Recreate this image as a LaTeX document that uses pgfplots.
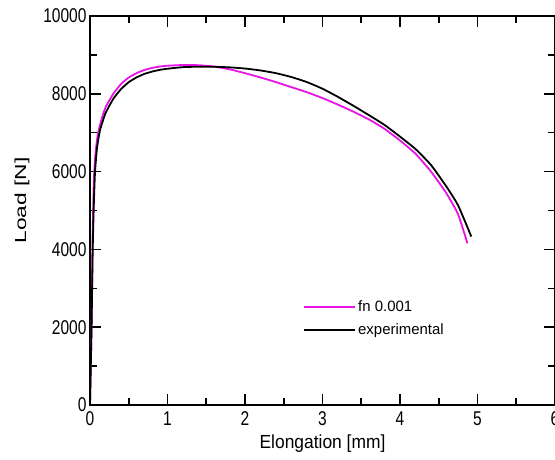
\documentclass[border=0pt]{standalone}
\usepackage{pgfplots}
\pgfplotsset{compat=1.18}
\usepackage{graphicx}
\usepackage{fontspec}
\setmainfont{Liberation Sans}
\newfontfamily\tickfont[FakeStretch=0.78]{Liberation Sans}
\newfontfamily\xlabfont[FakeStretch=0.92]{Liberation Sans}

\definecolor{fnmag}{RGB}{230,20,230}

\begin{document}
\begin{tikzpicture}
\begin{axis}[
    name=ax,
    scale only axis,
    width=465bp, height=389bp,
    xmin=0, xmax=6,
    ymin=0, ymax=10000,
    xtick={0,1,...,6},
    ytick={0,2000,...,10000},
    minor x tick num=1,
    minor y tick num=1,
    scaled y ticks=false,
    /pgf/number format/set thousands separator={},
    /pgf/number format/assume math mode=true,
    tick align=inside,
    major tick length=11bp,
    minor tick length=7bp,
    every tick/.style={black, line width=1.6bp},
    axis line style={line width=2.5bp},
    tick label style={font=\tickfont\fontsize{20}{23}\selectfont},
    xticklabel style={yshift=-3bp},
    xlabel={Elongation [mm]},
    ylabel={\fontsize{16}{19}\selectfont\resizebox{86bp}{\height}{Load [N]}},
    xlabel style={font=\xlabfont\fontsize{19}{22}\selectfont, yshift=-2bp},
    ylabel style={yshift=7bp, xshift=10bp},
    legend style={draw=none, fill=none, at={(0.452,0.279)}, anchor=north west,
        font=\fontsize{15}{18}\selectfont, row sep=7bp},
    legend cell align=left,
    legend image code/.code={\draw[#1] (0cm,0cm) -- (1.8cm,0cm);},
]
\addplot[fnmag, line width=1.8bp, smooth, tension=0.3] coordinates {
    (0.00,0) (0.02,2000) (0.035,4500) (0.05,5800) (0.07,6450) (0.10,6950)
    (0.15,7350) (0.20,7650) (0.30,8000) (0.40,8250) (0.50,8420) (0.60,8530)
    (0.70,8610) (0.80,8665) (0.90,8700) (1.00,8722) (1.20,8740) (1.40,8735)
    (1.60,8700) (1.80,8630) (2.00,8530) (2.20,8420) (2.40,8300) (2.60,8170)
    (2.80,8040) (3.00,7890) (3.20,7720) (3.40,7540) (3.60,7340) (3.80,7100)
    (4.00,6800) (4.20,6460) (4.40,6000) (4.60,5440) (4.75,4900) (4.87,4157)
};
\addlegendentry{fn 0.001}
\addplot[black, line width=1.8bp, smooth, tension=0.3] coordinates {
    (0.00,0) (0.02,2000) (0.035,4000) (0.05,5200) (0.065,6000) (0.09,6600)
    (0.13,7070) (0.20,7500) (0.30,7870) (0.40,8120) (0.50,8300) (0.60,8420)
    (0.70,8510) (0.80,8570) (0.90,8615) (1.00,8645) (1.20,8685) (1.40,8697)
    (1.60,8695) (1.80,8680) (2.00,8650) (2.20,8600) (2.40,8530) (2.60,8430)
    (2.80,8300) (3.00,8130) (3.20,7920) (3.40,7690) (3.60,7450) (3.80,7200)
    (4.00,6900) (4.20,6580) (4.40,6170) (4.60,5612) (4.75,5130) (4.92,4330)
};
\addlegendentry{experimental}
\end{axis}
\pgfresetboundingbox
\path[use as bounding box] ([xshift=-90bp,yshift=-54bp]ax.south west)
    rectangle ([yshift=16bp]ax.north east);
\end{tikzpicture}
\end{document}
